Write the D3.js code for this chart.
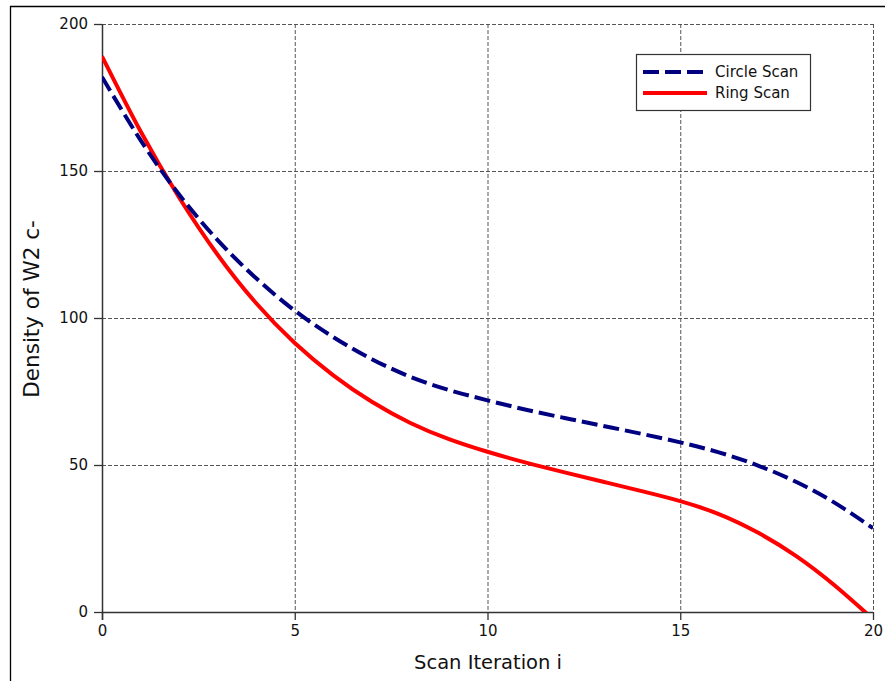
<!DOCTYPE html>
<html><head><meta charset="utf-8">
<script src="https://cdn.jsdelivr.net/npm/d3@7"></script>
<style>body{margin:0;background:#fff;}svg{display:block;font-family:"DejaVu Sans",sans-serif;}</style>
</head><body><svg id="c" width="885" height="681"></svg>
<script>
const iterations = [0,1,2,3,4,5,6,7,8,9,10,11,12,13,14,15,16,17,18,19,20];
const circleScan = [182,160.5,142,126.5,113.5,102.5,93.5,86,80,75.5,72,68.8,66,63.3,60.6,57.7,54.3,49.9,44.3,37.2,28.5];
const ringScan = [189,163.5,141,121.5,105,91.5,80.5,71.5,64.3,58.8,54.5,50.8,47.5,44.3,41.1,37.7,33.3,27.1,19.1,9.1,-2.4];
const xTicks = [0,5,10,15,20];
const yTicks = [0,50,100,150,200];
const seriesNames = ["Circle Scan","Ring Scan"];

const svg = d3.select("#c");
const L=102, R=873, T=24, B=612;
const x = d3.scaleLinear().domain([0,20]).range([L,R]);
const y = d3.scaleLinear().domain([0,200]).range([B,T]);

// outer frame
svg.append("path").attr("d","M10.5,681 V6.5 H885").attr("fill","none").attr("stroke","#000").attr("stroke-width",1.3);

// grid
const grid = svg.append("g").attr("stroke","#555").attr("stroke-width",1).attr("stroke-dasharray","4,2").attr("fill","none");
xTicks.filter(d=>d>0).forEach(d=>grid.append("line").attr("x1",x(d)+0.5).attr("x2",x(d)+0.5).attr("y1",T).attr("y2",B));
yTicks.filter(d=>d>0).forEach(d=>grid.append("line").attr("x1",L).attr("x2",R).attr("y1",y(d)+0.5).attr("y2",y(d)+0.5));

// axes
const xAxis = d3.axisBottom(x).tickValues(xTicks).tickSize(8).tickPadding(5);
const yAxis = d3.axisLeft(y).tickValues(yTicks).tickSize(8).tickPadding(6);
const gx = svg.append("g").attr("transform",`translate(0,${B})`).call(xAxis);
const gy = svg.append("g").attr("transform",`translate(${L},0)`).call(yAxis);
[gx,gy].forEach(g=>{
  g.select(".domain").remove();
  g.selectAll(".tick line").attr("stroke","#333").attr("stroke-width",1.3);
  g.selectAll(".tick text").attr("font-family","DejaVu Sans").attr("font-size",15).attr("fill","#111");
});
svg.append("line").attr("x1",L).attr("x2",R).attr("y1",B+0.5).attr("y2",B+0.5).attr("stroke","#333").attr("stroke-width",1.5);
svg.append("line").attr("x1",L+0.5).attr("x2",L+0.5).attr("y1",T).attr("y2",B+8).attr("stroke","#333").attr("stroke-width",1.5);

// lines
svg.append("clipPath").attr("id","clip").append("rect").attr("x",L).attr("y",T-5).attr("width",R-L).attr("height",B-T+5);
const line = d3.line().x((d,i)=>x(iterations[i])).y(d=>y(d)).curve(d3.curveNatural);
const lines = svg.append("g").attr("clip-path","url(#clip)");
lines.append("path").datum(ringScan).attr("d",line).attr("fill","none").attr("stroke","#ff0000").attr("stroke-width",4);
lines.append("path").datum(circleScan).attr("d",line).attr("fill","none").attr("stroke","#000080").attr("stroke-width",4).attr("stroke-dasharray","16,6");

// legend
const lg = svg.append("g");
lg.append("rect").attr("x",636.5).attr("y",54.5).attr("width",174).attr("height",56).attr("fill","#fff").attr("stroke","#333").attr("stroke-width",1.2);
const styles=[{c:"#000080",d:"16,6"},{c:"#ff0000",d:null}];
seriesNames.forEach((n,i)=>{
  const yy = 72 + i*21;
  lg.append("line").attr("x1",643).attr("x2",707).attr("y1",yy).attr("y2",yy).attr("stroke",styles[i].c).attr("stroke-width",4).attr("stroke-dasharray",styles[i].d);
  lg.append("text").attr("x",715).attr("y",yy+5).attr("font-size",15).attr("fill","#111").text(n);
});

// titles
svg.append("text").attr("x",488).attr("y",669).attr("text-anchor","middle").attr("font-size",19.5).attr("fill","#111").text("Scan Iteration i");
svg.append("text").attr("transform","translate(39,309) rotate(-90)").attr("text-anchor","middle").attr("font-size",21.5).attr("fill","#111").text("Density of W2 c-");
</script></body></html>
